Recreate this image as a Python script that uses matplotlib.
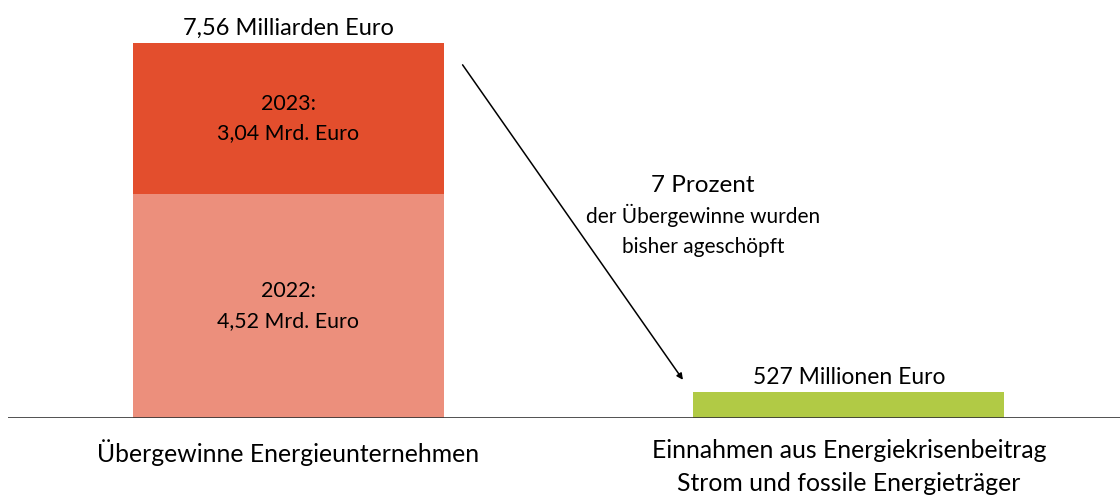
import matplotlib.pyplot as plt

plt.rcParams["font.family"] = ["Lato", "DejaVu Sans"]

# data (billion euro)
categories = ["Übergewinne Energieunternehmen",
              "Einnahmen aus Energiekrisenbeitrag\nStrom und fossile Energieträger"]
profit_2022 = 4.52
profit_2023 = 3.04
revenue = 0.527
total_label = "7,56 Milliarden Euro"
revenue_label = "527 Millionen Euro"
seg_labels = ["2022:\n4,52 Mrd. Euro", "2023:\n3,04 Mrd. Euro"]

c_2023 = "#E34E2D"
c_2022 = "#EC8F7C"
c_green = "#B1CA45"

fig = plt.figure(figsize=(11.2, 4.98), dpi=100)
ax = fig.add_axes([0.007, 1 - 418 / 498, 0.993, 418 / 498])

x = [0, 1]
w = 0.555
ax.bar(x[0], profit_2022, width=w, color=c_2022, zorder=2)
ax.bar(x[0], profit_2023, width=w, bottom=profit_2022, color=c_2023, zorder=2)
ax.bar(x[1], revenue, width=w, color=c_green, zorder=2)

total = profit_2022 + profit_2023
ax.set_xlim(-0.5, 1.4835)
ax.set_ylim(0, total * 418 / 375)
ax.axis("off")
ax.axhline(0, color="#333333", lw=1.2, zorder=3)

ax.annotate(total_label, (x[0], total), xytext=(0, 3), textcoords="offset points",
            ha="center", va="bottom", fontsize=17, annotation_clip=False)
ax.annotate(revenue_label, (x[1], revenue), xytext=(0, 3), textcoords="offset points",
            ha="center", va="bottom", fontsize=16.5)

ax.text(x[0], profit_2022 / 2, seg_labels[0], ha="center", va="center",
        fontsize=15.4, linespacing=1.6)
ax.text(x[0], profit_2022 + profit_2023 / 2, seg_labels[1], ha="center", va="center",
        fontsize=15.4, linespacing=1.6)

for xi, lab in zip(x, categories):
    ax.annotate(lab, (xi, 0), xytext=(0, -15), textcoords="offset points",
                ha="center", va="top", fontsize=17.8, linespacing=1.55,
                annotation_clip=False)

# arrow + note
ax.annotate("", xy=(0.704, 0.77), xytext=(0.311, 7.12),
            arrowprops=dict(arrowstyle="-|>", color="black", lw=1.1,
                            mutation_scale=9, shrinkA=0, shrinkB=0))
ax.text(0.74, 4.68, "7 Prozent", ha="center", va="center", fontsize=17.5)
ax.text(0.74, 3.78, "der Übergewinne wurden\nbisher ageschöpft", ha="center",
        va="center", fontsize=15, linespacing=1.6)

fig.savefig("out.png", dpi=100)
